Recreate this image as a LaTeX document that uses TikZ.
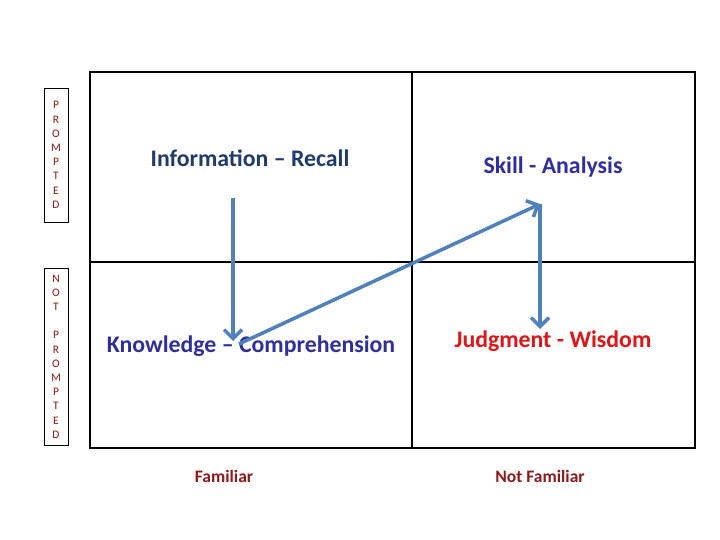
\documentclass[tikz,border=0pt]{standalone}
\usepackage{fontspec}
\setmainfont{Carlito}
\usetikzlibrary{arrows.meta}
\definecolor{navy}{HTML}{1F3A6B}
\definecolor{bluep}{HTML}{2E2E9E}
\definecolor{jred}{HTML}{E01515}
\definecolor{dred}{HTML}{8B1A1A}
\definecolor{steel}{HTML}{4F81BD}
\tikzset{
  grid/.style={line width=2.5pt, draw=black},
  side/.style={draw=black, line width=0.8pt, minimum width=24pt, align=center, inner sep=0pt,
     text=dred, font=\fontsize{11.5}{14.2}\selectfont},
  label/.style={font=\bfseries\fontsize{23.8}{28}\selectfont, inner sep=0pt},
  foot/.style={font=\bfseries\fontsize{17.5}{20}\selectfont, text=dred, inner sep=0pt},
  flow/.style={draw=steel, line width=3.5pt, -{Straight Barb[length=9pt,width=18pt,line width=3.5pt]}}
}
\begin{document}
\begin{tikzpicture}[x=1pt,y=-1pt]
\useasboundingbox (0,0) rectangle (720,540);
\fill[white] (0,0) rectangle (720,540);
\draw[grid] (90,72) rectangle (695,448);
\draw[grid] (90,262) -- (695,262);
\draw[line width=1.8pt] (412,72) -- (412,262);
\draw[grid] (412,262) -- (412,448);
\node[side, minimum height=134pt] (p) at (56,155) {P\\R\\O\\M\\P\\T\\E\\D};
\node[side, minimum height=177pt] (np) at (56,356.5) {N\\O\\T\\[14.2pt]P\\R\\O\\M\\P\\T\\E\\D};
\node[label, text=navy] (ir) at (250,158) {Information – Recall};
\node[label, text=bluep] (sa) at (553,167) {Skill - Analysis};
\node[label, text=bluep] (kc) at (251,346) {Knowledge – Comprehension};
\node[label, text=jred] (jw) at (553,341) {Judgment - Wisdom};
\node[foot] (f) at (224,476) {Familiar};
\node[foot] (nf) at (540,476) {Not Familiar};
\coordinate (a) at (233,198);
\coordinate (b) at (233,341);
\coordinate (c) at (540,204);
\coordinate (d) at (540,329);
\draw[flow] (a) -- (b);
\draw[flow] ([xshift=6pt,yshift=-3pt]b) -- (c);
\draw[flow] (c) -- (d);
\end{tikzpicture}
\end{document}
